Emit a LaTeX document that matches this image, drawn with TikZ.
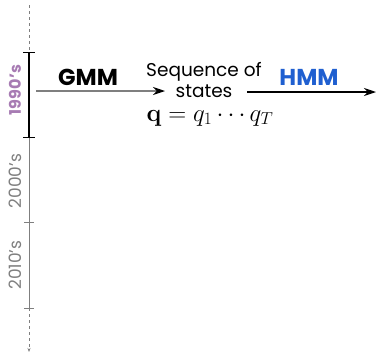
\documentclass[tikz,border=0pt]{standalone}
\usepackage[no-math]{fontspec}
\setmainfont{Poppins}
\usetikzlibrary{arrows.meta}
\definecolor{decadepurple}{HTML}{A77BB3}
\definecolor{decadegray}{HTML}{7F7F7F}
\definecolor{hmmblue}{HTML}{1F5FD0}
\newcommand{\apos}{{\char"27}}
\begin{document}
\begin{tikzpicture}[x=1pt,y=-1pt,
  axisdash/.style={decadegray,dashed,line width=0.6pt},
  axisline/.style={decadegray,line width=1pt},
  era/.style={black,line width=1.2pt},
  tickmark/.style={line width=1pt},
  decade/.style={rotate=90,font=\fontsize{17}{17}\selectfont},
  model/.style={font=\bfseries\fontsize{23}{23}\selectfont},
  flow/.style={-{Stealth[length=12pt,width=8pt]},line width=1.1pt}]
\useasboundingbox (0,0) rectangle (376,354);
% timeline points
\coordinate (top) at (29,5);
\coordinate (t1) at (29,52);
\coordinate (t2) at (29,137);
\coordinate (t3) at (29,222);
\coordinate (t4) at (29,308);
\coordinate (bot) at (29,352);
\draw[axisdash,-{Stealth[length=4pt,width=3pt]}] (t4) -- (bot);
\draw[axisdash] (top) -- (t1);
\draw[axisline] (t2) -- (t4);
\draw[era] (t1) -- (t2);
\draw[tickmark,black] ([xshift=-6pt]t1) -- ([xshift=6pt]t1);
\draw[tickmark,black] ([xshift=-6pt]t2) -- ([xshift=6pt]t2);
\draw[tickmark,decadegray] ([xshift=-5pt]t3) -- ([xshift=5pt]t3);
\draw[tickmark,decadegray] ([xshift=-5pt]t4) -- ([xshift=5pt]t4);
% decade labels
\node[decade,text=decadepurple,font=\bfseries\fontsize{16}{16}\selectfont] (d90) at (15,90) {1990\apos s};
\node[decade,text=decadegray] (d00) at (15,181) {2000\apos s};
\node[decade,text=decadegray] (d10) at (15,265) {2010\apos s};
% model chain
\coordinate (start) at (36,91);
\node[align=center,font=\fontsize{18.5}{20.5}\selectfont,inner sep=0pt] (seq) at (204,80) {Sequence of\\states};
\node[font=\fontsize{23}{23}\selectfont,inner sep=0pt,anchor=base] (qdef) at (210,121) {$\mathbf{q} = q_1 \cdots q_T$};
\coordinate (end) at (376,92);
\draw[flow,decadegray,-{Stealth[length=12pt,width=8pt,color=black]}] (start) -- (165,91) coordinate (a1);
\draw[flow,black] (247,92) coordinate (a2) -- (end);
\node[model,text=black] (gmm) at (88,77) {GMM};
\node[model,text=hmmblue] (hmm) at (309,77) {HMM};
\end{tikzpicture}
\end{document}
